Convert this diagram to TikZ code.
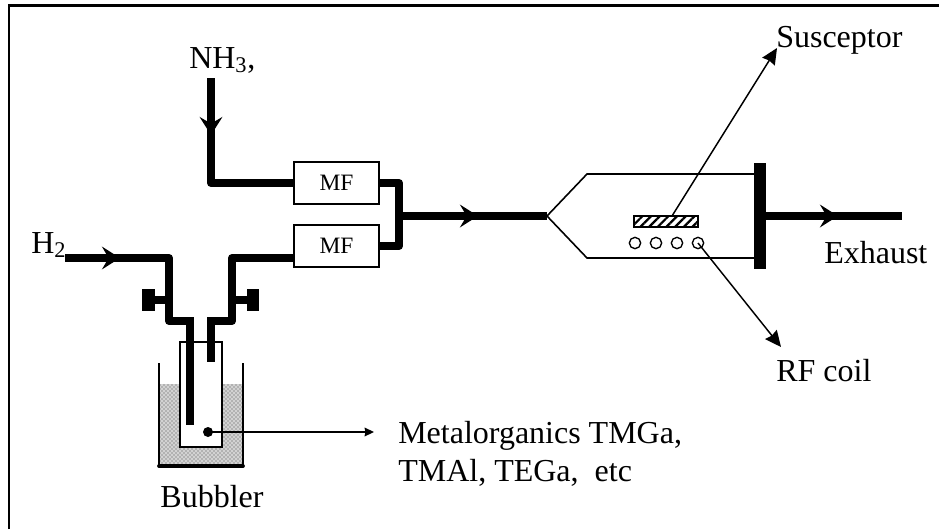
\documentclass[tikz,border=0pt]{standalone}
\usepackage{fontspec}
\setmainfont{Liberation Serif}
\usetikzlibrary{arrows.meta}
\usetikzlibrary{patterns.meta}
\usetikzlibrary{patterns}
\tikzset{
    pipe/.style={line width=6pt,line join=round},
    flow/.style={line width=6pt,-{Stealth[length=13.5pt,width=17pt,inset=5pt]}},
    thinline/.style={line width=1pt},
    leader/.style={line width=1.1pt,-{Stealth[length=12pt,width=11pt,inset=1pt]}},
    shortleader/.style={line width=1.1pt,-{Stealth[length=7pt,width=6.5pt,inset=0.5pt]}},
    mfbox/.style={draw,line width=1pt,fill=white,minimum width=63.75pt,minimum height=31.5pt,inner sep=0pt,font=\fontsize{17.6}{20}\selectfont},
    coil/.style={circle,draw,line width=1pt,fill=white,minimum size=8.5pt,inner sep=0pt},
    label/.style={inner sep=0.75pt,font=\fontsize{24}{27}\selectfont},
}
\begin{document}
\begin{tikzpicture}[x=0.75pt,y=0.75pt,yscale=-1,xscale=1]
    \useasboundingbox (0,0) rectangle (939,529);
    %Frame
    \coordinate (framecorner) at (9,5.5);
    \coordinate (frametop) at (939,5.5);
    \coordinate (framelow) at (9,529);
    \draw [line width=1.7pt,line join=miter] (framelow) -- (framecorner) -- (frametop);

    %Shape: Liquid
    \fill [gray!35] (160,384) rectangle (243,466);
    \fill [pattern=crosshatch dots,pattern color=black!70] (160,384) rectangle (243,466);
    %Shape: Vessel
    \draw [line width=1.6pt] (159,363) -- (159,466) -- (243,466) -- (243,363);
    \draw [line width=2.8pt,line cap=round] (159,466) -- (243,466);
    %Shape: Inner tube
    \draw [thinline,fill=white] (180,342) rectangle (222,447);

    % Named points of the pipes
    \coordinate (h2in) at (65,258);
    \coordinate (h2tip) at (120,258);
    \coordinate (lbend) at (169,258);
    \coordinate (lvalve) at (169,300);
    \coordinate (lstep) at (169,321);
    \coordinate (ltop) at (190,321);
    \coordinate (lend) at (190,425);
    \coordinate (rend) at (211,362);
    \coordinate (rtop) at (211,321);
    \coordinate (rstep) at (232,321);
    \coordinate (rvalve) at (232,300);
    \coordinate (rbend) at (232,258);
    \coordinate (nh3in) at (211,78);
    \coordinate (nh3tip) at (211,135);
    \coordinate (nh3bend) at (211,183);
    \coordinate (joinup) at (399,183);
    \coordinate (joinlow) at (399,246);
    \coordinate (joinmid) at (399,216);
    \coordinate (maintip) at (478,216);
    \coordinate (apex) at (547,216);
    \coordinate (outstart) at (766,216);
    \coordinate (outtip) at (838,216);
    \coordinate (outend) at (902,216);
    \coordinate (topcorner) at (587,174);
    \coordinate (lowcorner) at (587,258);
    \coordinate (topend) at (755,174);
    \coordinate (lowend) at (755,258);

    % MF Nodes
    \node [mfbox] (mfup) at (336.5,183) {MF};
    \node [mfbox] (mflow) at (336.5,246) {MF};

    %Pipes
    \draw [pipe] (h2in) -- (lbend) -- (lstep) -- (ltop);
    \draw [pipe] (ltop |- 0,317) -- (lend);
    \draw [pipe] (mflow.west |- rbend) -- (rbend) -- (rstep) -- (rtop);
    \draw [pipe] (rtop |- 0,317) -- (rend);
    \draw [pipe] (nh3in) -- (nh3bend) -- (mfup.west);
    \draw [pipe] (mfup.east) -- (joinup) -- (joinlow) -- (mflow.east);
    \draw [pipe] (joinmid) -- (apex);
    \draw [pipe] (outstart) -- (outend);
    \draw [flow] (h2in) -- (h2tip);
    \draw [flow] (nh3in) -- (nh3tip);
    \draw [flow] (joinmid) -- (maintip);
    \draw [flow] (outstart) -- (outtip);

    %Valves
    \coordinate (lknob) at (148,300);
    \coordinate (rknob) at (253,300);
    \draw [pipe] (lvalve) -- (lknob);
    \draw [pipe] (rvalve) -- (rknob);
    \fill (142,289) rectangle (155,311);
    \fill (247,289) rectangle (259,311);

    %Shape: Reactor
    \draw [line width=1.2pt] (topend) -- (topcorner) -- (apex) -- (lowcorner) -- (lowend);
    \fill (754,163) rectangle (766,269);
    %Shape: Susceptor
    \node [draw,line width=1.3pt,minimum width=48pt,minimum height=8.25pt,inner sep=0pt,pattern={Lines[angle=45,distance=4.6pt,line width=1.7pt]}] (suscep) at (666,221.5) {};
    \node [coil] (coil1) at (635,243) {};
    \node [coil] (coil2) at (656,243) {};
    \node [coil] (coil3) at (677,243) {};
    \node [coil] (coil4) at (698,243) {};

    %Shape: Dot
    \node [circle,fill,minimum size=7.5pt,inner sep=0pt] (dot) at (208,432) {};

    %Leaders
    \coordinate (suscepfoot) at (672,216);
    \coordinate (suscephead) at (777,48);
    \coordinate (coilhead) at (781,347);
    \coordinate (metalhead) at (374,432);
    \draw [leader] (suscepfoot) -- (suscephead);
    \draw [leader] (coil4.center) -- (coilhead);
    \draw [shortleader] (dot.center) -- (metalhead);

    % Text Node
    \node [label,anchor=base west] (nh3) at (188,68) {NH\textsubscript{3},};
    % Text Node
    \node [label,anchor=base west] (h2) at (30,253) {H\textsubscript{2}};
    % Text Node
    \node [label,anchor=base west] (susceptor) at (775,47) {Susceptor};
    % Text Node
    \node [label,anchor=base west] (exhaust) at (823,263) {Exhaust};
    % Text Node
    \node [label,anchor=base west] (rfcoil) at (775,381) {RF coil};
    % Text Node
    \node [label,anchor=base west] (metal) at (397,443) {Metalorganics TMGa,};
    % Text Node
    \node [label,anchor=base west] (metalb) at (397,481) {TMAl, TEGa,~ etc};
    % Text Node
    \node [label,anchor=base] (bubbler) at (212,507) {Bubbler};
\end{tikzpicture}
\end{document}
